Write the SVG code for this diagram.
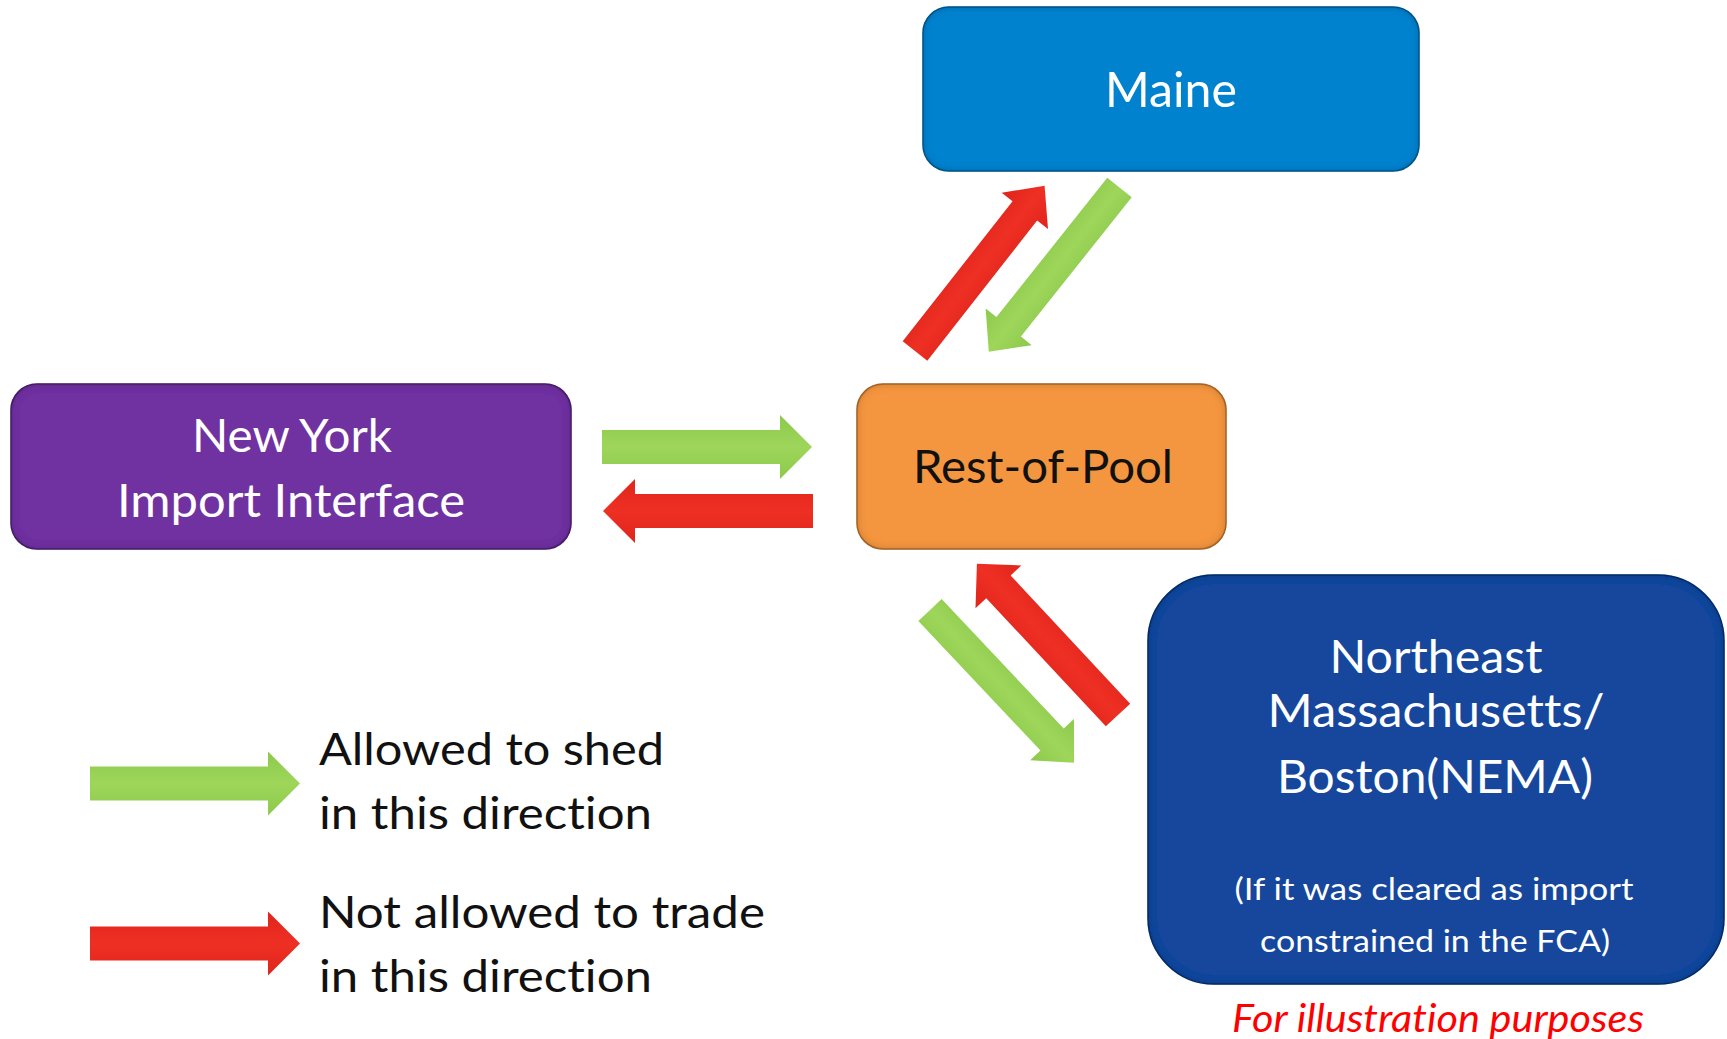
<svg xmlns="http://www.w3.org/2000/svg" xmlns:xlink="http://www.w3.org/1999/xlink" width="1727" height="1039" viewBox="0 0 1727 1039">
  <style>
    .lbl { font-family: Lato, "Open Sans", "Liberation Sans", sans-serif; font-variant-ligatures: none; }
    .w { fill: #ffffff; }
    .k { fill: #111111; }
    .box { stroke-width: 1.5; filter: url(#inset); }
  </style>
  <defs>
    <filter id="inset" x="-5%" y="-5%" width="110%" height="110%">
      <feFlood flood-color="#000" flood-opacity="0.5" result="c"/>
      <feComposite in="c" in2="SourceAlpha" operator="out" result="outside"/>
      <feGaussianBlur in="outside" stdDeviation="4" result="blur"/>
      <feComposite in="blur" in2="SourceAlpha" operator="in" result="shadow"/>
      <feMerge><feMergeNode in="SourceGraphic"/><feMergeNode in="shadow"/></feMerge>
    </filter>
    <linearGradient id="gGreen" x1="0" y1="0" x2="0" y2="1">
      <stop offset="0" stop-color="#8cc94c"/>
      <stop offset="0.5" stop-color="#9ed65a"/>
      <stop offset="1" stop-color="#8cc94c"/>
    </linearGradient>
    <linearGradient id="gRed" x1="0" y1="0" x2="0" y2="1">
      <stop offset="0" stop-color="#e0251b"/>
      <stop offset="0.5" stop-color="#ee2f24"/>
      <stop offset="1" stop-color="#e0251b"/>
    </linearGradient>
    <path id="arrow" d="M0,-17 L178,-17 L178,-32 L210,0 L178,32 L178,17 L0,17 Z"/>
  </defs>

  <rect width="1727" height="1039" fill="#ffffff"/>

  <g id="node-maine">
    <rect class="box" x="923" y="7" width="496" height="164" rx="26" ry="26" fill="#0082cf" stroke="#0a5f96"/>
    <text class="lbl w" x="1171" y="107" font-size="49" text-anchor="middle" textLength="132" lengthAdjust="spacingAndGlyphs">Maine</text>
  </g>

  <g id="node-newyork">
    <rect class="box" x="11" y="384" width="560" height="165" rx="26" ry="26" fill="#7030a0" stroke="#4f2373"/>
    <text class="lbl w" x="292" y="452" font-size="47" text-anchor="middle" textLength="200" lengthAdjust="spacingAndGlyphs">New York</text>
    <text class="lbl w" x="291" y="517" font-size="47" text-anchor="middle" textLength="348" lengthAdjust="spacingAndGlyphs">Import Interface</text>
  </g>

  <g id="node-restofpool">
    <rect class="box" x="857" y="384" width="369" height="165" rx="26" ry="26" fill="#f4953f" stroke="#b86f2c"/>
    <text class="lbl k" x="1043" y="483" font-size="46" text-anchor="middle" textLength="260" lengthAdjust="spacingAndGlyphs">Rest-of-Pool</text>
  </g>

  <g id="node-nema">
    <rect class="box" x="1148" y="575" width="576" height="409" rx="66" ry="66" fill="#13479d" stroke="#0d3373"/>
    <text class="lbl w" x="1436" y="673" font-size="46" text-anchor="middle" textLength="213" lengthAdjust="spacingAndGlyphs">Northeast</text>
    <text class="lbl w" x="1436" y="727" font-size="46" text-anchor="middle" textLength="337" lengthAdjust="spacingAndGlyphs">Massachusetts/</text>
    <text class="lbl w" x="1435" y="793" font-size="46" text-anchor="middle" textLength="316" lengthAdjust="spacingAndGlyphs">Boston(NEMA)</text>
    <text class="lbl w" x="1434" y="900" font-size="31" text-anchor="middle" textLength="399" lengthAdjust="spacingAndGlyphs">(If it was cleared as import</text>
    <text class="lbl w" x="1435" y="952" font-size="31" text-anchor="middle" textLength="350" lengthAdjust="spacingAndGlyphs">constrained in the FCA)</text>
  </g>

  <g id="connectors">
    <use xlink:href="#arrow" href="#arrow" fill="url(#gRed)" transform="translate(915,351) rotate(-51.9) scale(1,0.92)"/>
    <use xlink:href="#arrow" href="#arrow" fill="url(#gGreen)" transform="translate(1119.5,187.5) rotate(128.5) scale(1,0.92)"/>
    <use xlink:href="#arrow" href="#arrow" fill="url(#gGreen)" transform="translate(602,447)"/>
    <use xlink:href="#arrow" href="#arrow" fill="url(#gRed)" transform="translate(813,511) rotate(180)"/>
    <use xlink:href="#arrow" href="#arrow" fill="url(#gGreen)" transform="translate(930,610) rotate(46.7) scale(1,0.94)"/>
    <use xlink:href="#arrow" href="#arrow" fill="url(#gRed)" transform="translate(1118,715) rotate(-133) scale(0.985,0.98)"/>
  </g>

  <g id="legend">
    <use xlink:href="#arrow" href="#arrow" fill="url(#gGreen)" transform="translate(90,783.5)"/>
    <text class="lbl k" x="319" y="765" font-size="45" textLength="345" lengthAdjust="spacingAndGlyphs">Allowed to shed</text>
    <text class="lbl k" x="319" y="829" font-size="45" textLength="333" lengthAdjust="spacingAndGlyphs">in this direction</text>
    <use xlink:href="#arrow" href="#arrow" fill="url(#gRed)" transform="translate(90,943.5)"/>
    <text class="lbl k" x="319" y="928" font-size="45" textLength="446" lengthAdjust="spacingAndGlyphs">Not allowed to trade</text>
    <text class="lbl k" x="319" y="992" font-size="45" textLength="333" lengthAdjust="spacingAndGlyphs">in this direction</text>
  </g>

  <text class="lbl" x="1438" y="1032" font-size="38" font-style="italic" fill="#ff0000" text-anchor="middle" textLength="412" lengthAdjust="spacingAndGlyphs">For illustration purposes</text>
</svg>
